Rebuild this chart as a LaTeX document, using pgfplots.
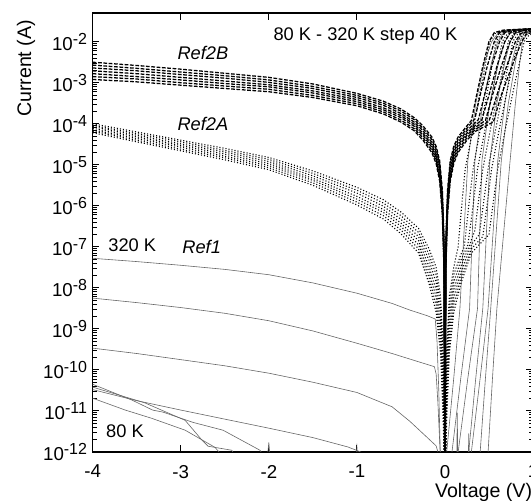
\documentclass[border=0pt]{standalone}
\usepackage{fontspec}
\setmainfont{Liberation Sans}
\usepackage{pgfplots}
\pgfplotsset{compat=1.18}

% line styles of the three device families
\pgfplotsset{
  refone/.style={black!60, line width=0.45pt, line join=round},
  reftwoa/.style={black, line width=0.8pt, dash pattern=on 0.8pt off 1.5pt},
  reftwob/.style={black, line width=0.95pt, dash pattern=on 2.8pt off 1.2pt},
}
\newcommand{\ticksize}{\fontsize{14}{16}\selectfont}
\newcommand{\labelsize}{\fontsize{14.7}{17}\selectfont}

\begin{document}
\fontsize{13.7}{16}\selectfont
\begin{tikzpicture}
\begin{axis}[
  scale only axis, width=330pt, height=329pt,
  xmin=-4, xmax=1,
  ymode=log, ymin=1e-12, ymax=5e-2,
  xtick={-4,-3,-2,-1,0,1},
  ytick={1e-12,1e-11,1e-10,1e-9,1e-8,1e-7,1e-6,1e-5,1e-4,1e-3,1e-2},
  tick pos=both, tick align=inside,
  major tick length=5pt, minor tick length=3pt,
  every tick/.style={black, line width=0.7pt},
  axis line style={line width=1pt},
  /pgf/number format/assume math mode=true,
  ticklabel style={font=\ticksize},
  xticklabel style={yshift=-5pt},
  yticklabel style={xshift=0.5pt},
  yticklabel={10\raisebox{4.5pt}{\fontsize{12}{13}\selectfont\pgfmathparse{int(round(\tick/ln(10)))}\pgfmathresult}},
  xlabel={Voltage (V)},
  xlabel style={font=\labelsize, at={(axis description cs:1,0)}, anchor=east, inner sep=0pt, yshift=-30pt, xshift=-0.5pt},
]
% ---- Ref1 (solid), 320 K down to 80 K
\addplot[refone] coordinates {(-4,5.25e-8) (-3.5,4.37e-8) (-3,3.55e-8) (-2.5,2.82e-8) (-2,2.09e-8) (-1.5,1.32e-8) (-1,7.41e-9) (-0.6,4.17e-9) (-0.4,2.88e-9) (-0.2,2.09e-9) (-0.11,1.74e-9) (-0.09,5.01e-10) (-0.07,3.16e-11) (-0.05,5.01e-13) (0,1e-13) (0.02,1e-12) (0.1,6.31e-11) (0.17,3.16e-9) (0.26,1.26e-5) (0.35,3.16e-4) (0.45,3.16e-3) (0.53,1e-2) (0.6,1.58e-2) (0.7,1.91e-2) (1,2.09e-2)};
\addplot[refone] coordinates {(-4,5.62e-9) (-3.5,4.37e-9) (-3,3.31e-9) (-2.5,2.40e-9) (-2,1.58e-9) (-1.5,8.91e-10) (-1,4.47e-10) (-0.6,2.51e-10) (-0.3,1.58e-10) (-0.12,1.2e-10) (-0.1,7.94e-11) (-0.08,1.58e-11) (-0.05,6.31e-13) (0,1e-13) (0.06,1e-13) (0.08,1e-12) (0.18,6.31e-11) (0.28,3.16e-9) (0.34,1.26e-5) (0.43,3.16e-4) (0.53,3.16e-3) (0.6,1e-2) (0.66,1.58e-2) (0.76,1.91e-2) (1,2.09e-2)};
\addplot[refone] coordinates {(-4,3.39e-10) (-3.5,2.51e-10) (-3,1.78e-10) (-2.5,1.26e-10) (-2,8.32e-11) (-1.5,5.01e-11) (-1,2.82e-11) (-0.6,1.26e-11) (-0.4,5.62e-12) (-0.2,2.24e-12) (-0.1,1.41e-12) (-0.04,5.01e-13) (0,1e-13) (0.13,1e-13) (0.15,1e-12) (0.26,6.31e-11) (0.37,3.16e-9) (0.42,1.26e-5) (0.51,3.16e-4) (0.61,3.16e-3) (0.68,1e-2) (0.74,1.58e-2) (0.84,1.91e-2) (1,2.04e-2)};
\addplot[refone] coordinates {(-4,3.31e-11) (-3.5,1.78e-11) (-3,1.05e-11) (-2.5,6.31e-12) (-2,3.80e-12) (-1.5,2.24e-12) (-1.1,1.32e-12) (-0.9,8.91e-13) (-0.7,3.16e-13) (0.1,1e-13) (0.25,1e-13) (0.27,1e-12) (0.35,6.31e-11) (0.43,3.16e-9) (0.51,1.26e-5) (0.59,3.16e-4) (0.68,3.16e-3) (0.74,1e-2) (0.8,1.58e-2) (0.9,1.91e-2) (1,2e-2)};
\addplot[refone] coordinates {(-4,4.47e-11) (-3.55,1.82e-11) (-3.32,1.05e-11) (-3.2,9.33e-12) (-2.86,5.25e-12) (-2.52,3.39e-12) (-2.1,1.1e-12) (-2,5.01e-13) (-1.9,1e-13) (0.28,1e-13) (0.3,1e-12) (0.4,6.31e-11) (0.49,3.16e-9) (0.6,1.26e-5) (0.68,3.16e-4) (0.76,3.16e-3) (0.82,1e-2) (0.87,1.58e-2) (0.95,1.86e-2) (1,1.95e-2)};
\addplot[refone] coordinates {(-4,3.80e-11) (-3.41,1.58e-11) (-2.95,5.89e-12) (-2.76,1.95e-12) (-2.69,1.38e-12) (-2.42,1.1e-12) (-2.3,3.98e-13) (-2.06,1e-13) (-2,1.7e-12) (-1.95,1e-13) (-1.01,1e-13) (-1,1.58e-12) (-0.99,1e-13) (0.13,1e-13) (0.14,8.91e-12) (0.15,1e-13) (0.38,1e-13) (0.4,1e-12) (0.46,6.31e-11) (0.52,3.16e-9) (0.64,1.26e-5) (0.72,3.16e-4) (0.8,3.16e-3) (0.85,1e-2) (0.9,1.58e-2) (1,1.86e-2)};
\addplot[refone] coordinates {(-4,2.04e-11) (-3.63,1.05e-11) (-3.33,6.61e-12) (-2.95,3.39e-12) (-2.61,1.29e-12) (-2.45,5.01e-13) (-2.3,1e-13) (0.26,1e-13) (0.27,2.8e-12) (0.28,1e-13) (0.47,1e-13) (0.49,1e-12) (0.54,6.31e-11) (0.59,3.16e-9) (0.74,1.26e-5) (0.8,3.16e-4) (0.85,3.16e-3) (0.88,1e-2) (0.93,1.51e-2) (1,1.78e-2)};
% ---- Ref2A (dotted)
\addplot[reftwoa] coordinates {(-4,1e-4) (-3.5,6.31e-5) (-3,3.98e-5) (-2.5,2.51e-5) (-2,1.51e-5) (-1.5,7.08e-6) (-1,2.82e-6) (-0.7,1.41e-6) (-0.5,7.08e-7) (-0.3,2.82e-7) (-0.18,8.91e-8) (-0.1,3.16e-8) (-0.05,6.31e-9) (-0.02,3.16e-10) (0,1e-13) (0.02,3.16e-10) (0.05,6.31e-9) (0.1,3.16e-8) (0.15,1e-7) (0.19,1e-6) (0.23,7.94e-6) (0.3,4.68e-5) (0.4,6.31e-4) (0.51,1e-2) (0.57,1.58e-2) (0.68,1.91e-2) (1,2.09e-2)};
\addplot[reftwoa] coordinates {(-4,9.12e-5) (-3.5,5.75e-5) (-3,3.63e-5) (-2.5,2.24e-5) (-2,1.35e-5) (-1.5,6.17e-6) (-1,2.40e-6) (-0.7,1.17e-6) (-0.5,5.75e-7) (-0.3,2.24e-7) (-0.18,6.46e-8) (-0.1,2.09e-8) (-0.05,3.72e-9) (-0.02,1.66e-10) (0,1e-13) (0.02,1.66e-10) (0.05,3.72e-9) (0.1,2.09e-8) (0.18,6.46e-8) (0.22,1e-7) (0.27,1e-6) (0.32,7.94e-6) (0.4,7.08e-5) (0.5,1e-3) (0.58,1e-2) (0.64,1.58e-2) (0.74,1.91e-2) (1,2.04e-2)};
\addplot[reftwoa] coordinates {(-4,8.51e-5) (-3.5,5.25e-5) (-3,3.24e-5) (-2.5,2.04e-5) (-2,1.2e-5) (-1.5,5.37e-6) (-1,2.04e-6) (-0.7,9.77e-7) (-0.5,4.68e-7) (-0.3,1.78e-7) (-0.18,4.68e-8) (-0.1,1.35e-8) (-0.05,2.14e-9) (-0.02,8.51e-11) (0,1e-13) (0.02,8.51e-11) (0.05,2.14e-9) (0.1,1.35e-8) (0.18,4.68e-8) (0.26,1.12e-7) (0.32,1e-6) (0.37,7.94e-6) (0.45,6.31e-5) (0.55,7.94e-4) (0.65,1e-2) (0.71,1.58e-2) (0.8,1.91e-2) (1,2.04e-2)};
\addplot[reftwoa] coordinates {(-4,7.76e-5) (-3.5,4.79e-5) (-3,2.95e-5) (-2.5,1.82e-5) (-2,1.07e-5) (-1.5,4.68e-6) (-1,1.70e-6) (-0.7,8.13e-7) (-0.5,3.80e-7) (-0.3,1.41e-7) (-0.18,3.31e-8) (-0.1,8.91e-9) (-0.05,1.26e-9) (-0.02,4.47e-11) (0,1e-13) (0.02,4.47e-11) (0.05,1.26e-9) (0.1,8.91e-9) (0.18,3.31e-8) (0.28,1.12e-7) (0.34,2.51e-7) (0.38,1.26e-6) (0.43,7.94e-6) (0.52,7.94e-5) (0.62,8.91e-4) (0.72,1e-2) (0.78,1.58e-2) (0.88,1.86e-2) (1,2e-2)};
\addplot[reftwoa] coordinates {(-4,7.08e-5) (-3.5,4.37e-5) (-3,2.69e-5) (-2.5,1.62e-5) (-2,9.55e-6) (-1.5,4.17e-6) (-1,1.45e-6) (-0.7,6.92e-7) (-0.5,3.16e-7) (-0.3,1.12e-7) (-0.18,2.40e-8) (-0.1,5.89e-9) (-0.05,7.41e-10) (-0.02,2.34e-11) (0,1e-13) (0.02,2.34e-11) (0.05,7.41e-10) (0.1,5.89e-9) (0.18,2.40e-8) (0.3,1.12e-7) (0.39,2e-7) (0.44,1.26e-6) (0.49,7.94e-6) (0.57,6.31e-5) (0.67,7.94e-4) (0.77,1e-2) (0.83,1.58e-2) (0.92,1.82e-2) (1,1.91e-2)};
\addplot[reftwoa] coordinates {(-4,6.61e-5) (-3.5,3.98e-5) (-3,2.40e-5) (-2.5,1.48e-5) (-2,8.51e-6) (-1.5,3.63e-6) (-1,1.23e-6) (-0.7,5.75e-7) (-0.5,2.57e-7) (-0.3,8.91e-8) (-0.18,1.74e-8) (-0.1,3.80e-9) (-0.05,4.27e-10) (-0.02,1.2e-11) (0,1e-13) (0.02,1.2e-11) (0.05,4.27e-10) (0.1,3.8e-9) (0.18,1.74e-8) (0.3,8.91e-8) (0.43,1.78e-7) (0.48,1.12e-6) (0.53,7.94e-6) (0.62,7.94e-5) (0.72,8.91e-4) (0.83,1e-2) (0.88,1.51e-2) (0.96,1.74e-2) (1,1.78e-2)};
\addplot[reftwoa] coordinates {(-4,6.03e-5) (-3.5,3.63e-5) (-3,2.19e-5) (-2.5,1.32e-5) (-2,7.59e-6) (-1.5,3.16e-6) (-1,1.05e-6) (-0.7,4.79e-7) (-0.5,2.09e-7) (-0.3,7.08e-8) (-0.18,1.26e-8) (-0.1,2.51e-9) (-0.05,2.51e-10) (-0.02,6.31e-12) (0,1e-13) (0.02,6.31e-12) (0.05,2.51e-10) (0.1,2.51e-9) (0.18,1.26e-8) (0.3,7.08e-8) (0.5,2e-7) (0.55,1.26e-6) (0.6,7.94e-6) (0.68,6.31e-5) (0.79,8.91e-4) (0.9,1e-2) (0.95,1.41e-2) (1,1.58e-2)};
% ---- Ref2B (dashed)
\addplot[reftwob] coordinates {(-4,3.16e-3) (-3.5,2.63e-3) (-3,2.14e-3) (-2.5,1.70e-3) (-2,1.35e-3) (-1.5,9.33e-4) (-1,5.50e-4) (-0.7,3.55e-4) (-0.5,2.29e-4) (-0.35,1.41e-4) (-0.25,8.91e-5) (-0.15,4.79e-5) (-0.1,2.82e-5) (-0.06,1.26e-5) (-0.03,2.51e-6) (-0.01,1.58e-7) (0,1e-13) (0.01,1.58e-7) (0.03,2.51e-6) (0.06,1.26e-5) (0.1,2.82e-5) (0.15,4.79e-5) (0.25,8.91e-5) (0.3,1.2e-4) (0.36,5.01e-4) (0.43,2.51e-3) (0.5,1e-2) (0.56,1.66e-2) (0.66,1.91e-2) (1,2.09e-2)};
\addplot[reftwob] coordinates {(-4,2.69e-3) (-3.5,2.24e-3) (-3,1.82e-3) (-2.5,1.48e-3) (-2,1.17e-3) (-1.5,8.13e-4) (-1,4.90e-4) (-0.7,3.16e-4) (-0.5,2.04e-4) (-0.35,1.26e-4) (-0.25,7.76e-5) (-0.15,4.17e-5) (-0.1,2.40e-5) (-0.06,1.05e-5) (-0.03,2.0e-6) (-0.01,1.17e-7) (0,1e-13) (0.01,1.17e-7) (0.03,2.0e-6) (0.06,1.05e-5) (0.1,2.40e-5) (0.15,4.17e-5) (0.25,7.76e-5) (0.34,1.32e-4) (0.4,5.01e-4) (0.48,2.51e-3) (0.56,1e-2) (0.62,1.66e-2) (0.72,1.91e-2) (1,2.04e-2)};
\addplot[reftwob] coordinates {(-4,2.29e-3) (-3.5,1.95e-3) (-3,1.58e-3) (-2.5,1.29e-3) (-2,1.02e-3) (-1.5,7.24e-4) (-1,4.37e-4) (-0.7,2.82e-4) (-0.5,1.78e-4) (-0.35,1.1e-4) (-0.25,6.76e-5) (-0.15,3.55e-5) (-0.1,2.04e-5) (-0.06,8.51e-6) (-0.03,1.58e-6) (-0.01,8.51e-8) (0,1e-13) (0.01,8.51e-8) (0.03,1.58e-6) (0.06,8.51e-6) (0.1,2.04e-5) (0.15,3.55e-5) (0.25,6.76e-5) (0.38,1.26e-4) (0.45,5.01e-4) (0.53,2.51e-3) (0.62,1e-2) (0.68,1.66e-2) (0.78,1.91e-2) (1,2.04e-2)};
\addplot[reftwob] coordinates {(-4,1.95e-3) (-3.5,1.66e-3) (-3,1.35e-3) (-2.5,1.10e-3) (-2,8.91e-4) (-1.5,6.31e-4) (-1,3.89e-4) (-0.7,2.45e-4) (-0.5,1.58e-4) (-0.35,9.77e-5) (-0.25,5.89e-5) (-0.15,3.09e-5) (-0.1,1.74e-5) (-0.06,7.08e-6) (-0.03,1.26e-6) (-0.01,6.31e-8) (0,1e-13) (0.01,6.31e-8) (0.03,1.26e-6) (0.06,7.08e-6) (0.1,1.74e-5) (0.15,3.09e-5) (0.25,5.89e-5) (0.35,9.33e-5) (0.42,1.26e-4) (0.5,5.01e-4) (0.59,2.51e-3) (0.68,1e-2) (0.74,1.66e-2) (0.84,1.91e-2) (1,2e-2)};
\addplot[reftwob] coordinates {(-4,1.66e-3) (-3.5,1.41e-3) (-3,1.17e-3) (-2.5,9.55e-4) (-2,7.94e-4) (-1.5,5.62e-4) (-1,3.47e-4) (-0.7,2.19e-4) (-0.5,1.41e-4) (-0.35,8.71e-5) (-0.25,5.25e-5) (-0.15,2.69e-5) (-0.1,1.48e-5) (-0.06,5.89e-6) (-0.03,1e-6) (-0.01,4.68e-8) (0,1e-13) (0.01,4.68e-8) (0.03,1e-6) (0.06,5.89e-6) (0.1,1.48e-5) (0.15,2.69e-5) (0.25,5.25e-5) (0.35,8.32e-5) (0.46,1.2e-4) (0.54,5.01e-4) (0.64,2.51e-3) (0.74,1e-2) (0.8,1.66e-2) (0.9,1.86e-2) (1,1.95e-2)};
\addplot[reftwob] coordinates {(-4,1.41e-3) (-3.5,1.23e-3) (-3,1e-3) (-2.5,8.32e-4) (-2,6.92e-4) (-1.5,4.90e-4) (-1,3.09e-4) (-0.7,1.95e-4) (-0.5,1.23e-4) (-0.35,7.59e-5) (-0.25,4.57e-5) (-0.15,2.29e-5) (-0.1,1.26e-5) (-0.06,4.79e-6) (-0.03,7.94e-7) (-0.01,3.39e-8) (0,1e-13) (0.01,3.39e-8) (0.03,7.94e-7) (0.06,4.79e-6) (0.1,1.26e-5) (0.15,2.29e-5) (0.25,4.57e-5) (0.35,7.41e-5) (0.5,1.15e-4) (0.59,5.01e-4) (0.7,2.51e-3) (0.8,1e-2) (0.86,1.58e-2) (0.95,1.78e-2) (1,1.82e-2)};
\addplot[reftwob] coordinates {(-4,1.2e-3) (-3.5,1.05e-3) (-3,8.71e-4) (-2.5,7.24e-4) (-2,6.03e-4) (-1.5,4.37e-4) (-1,2.75e-4) (-0.7,1.74e-4) (-0.5,1.1e-4) (-0.35,6.76e-5) (-0.25,3.98e-5) (-0.15,2e-5) (-0.1,1.07e-5) (-0.06,3.98e-6) (-0.03,6.31e-7) (-0.01,2.51e-8) (0,1e-13) (0.01,2.51e-8) (0.03,6.31e-7) (0.06,3.98e-6) (0.1,1.07e-5) (0.15,2e-5) (0.25,3.98e-5) (0.35,6.61e-5) (0.55,1.1e-4) (0.64,5.01e-4) (0.76,2.51e-3) (0.87,1e-2) (0.92,1.51e-2) (1,1.7e-2)};

\node[anchor=base west, inner sep=0pt] at (rel axis cs:0.41,0.9385) {80 K - 320 K step 40 K};
\node[anchor=base west, inner sep=0pt] at (rel axis cs:0.192,0.893) {\itshape Ref2B};
\node[anchor=base west, inner sep=0pt] at (rel axis cs:0.192,0.733) {\itshape Ref2A};
\node[anchor=base west, inner sep=0pt] at (rel axis cs:0.035,0.456) {320 K};
\node[anchor=base west, inner sep=0pt] at (rel axis cs:0.203,0.451) {\itshape Ref1};
\node[anchor=base west, inner sep=0pt] at (rel axis cs:0.03,0.032) {80 K};
\end{axis}
\node[rotate=90, anchor=south east, inner sep=0pt, font=\labelsize] at ([xshift=-43pt,yshift=-5pt]current axis.north west) {Current (A)};
\pgfresetboundingbox
\path[use as bounding box] ([xshift=-69.5pt,yshift=-36.75pt]current axis.south west) rectangle ([xshift=-1.5pt,yshift=9.75pt]current axis.north east);
\end{tikzpicture}
\end{document}
